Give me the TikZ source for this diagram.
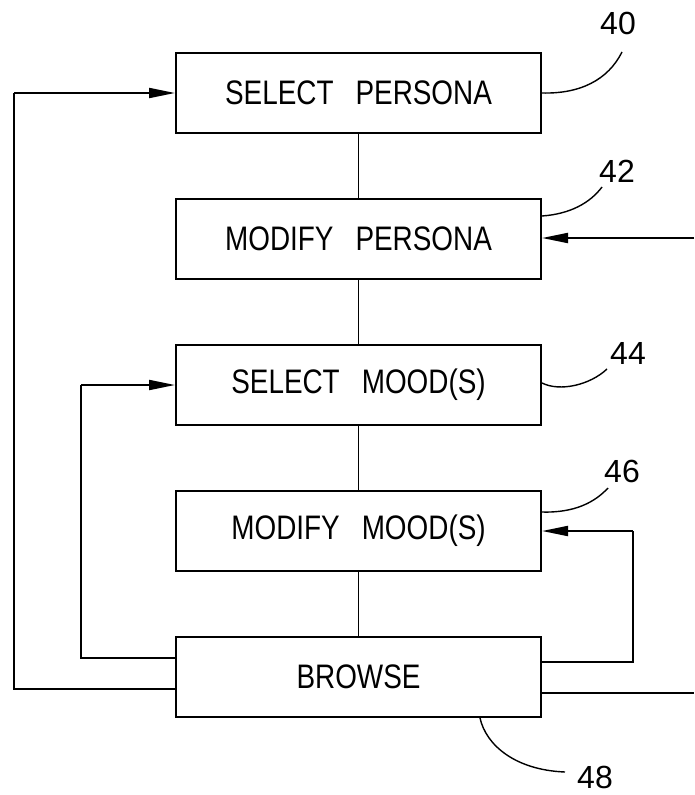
\documentclass[tikz,border=0pt]{standalone}
\usepackage{fontspec}
\setmainfont{Liberation Sans}
\newfontfamily\pfont[FakeStretch=0.82]{Liberation Sans}
\usetikzlibrary{arrows.meta}
\begin{document}
\begin{tikzpicture}[x=1pt,y=-1pt,
  stepbox/.style={draw,line width=2pt,minimum width=365pt,minimum height=80pt,inner sep=0pt,
    font=\pfont\fontsize{34}{34}\selectfont},
  link/.style={line width=1.4pt},
  loop/.style={line width=2pt},
  arr/.style={loop,-{Triangle[length=26pt,width=10pt]}},
  leader/.style={line width=1.4pt},
  num/.style={inner sep=0pt,font=\fontsize{32}{32}\selectfont}]
\useasboundingbox (0,0) rectangle (694,795);
\node[stepbox] (b40) at (358.5,93) {SELECT\hspace{22pt}PERSONA};
\node[stepbox] (b42) at (358.5,239) {MODIFY\hspace{22pt}PERSONA};
\node[stepbox] (b44) at (358.5,385) {SELECT\hspace{22pt}MOOD(S)};
\node[stepbox] (b46) at (358.5,531) {MODIFY\hspace{22pt}MOOD(S)};
\node[stepbox] (b48) at (358.5,677) {BROWSE};
\draw[link] (b40) -- (b42);
\draw[link] (b42) -- (b44);
\draw[link] (b44) -- (b46);
\draw[link] (b46) -- (b48);
% loops
\coordinate (lo) at (14,93);
\coordinate (li) at (81,385);
\coordinate (ri) at (633,531);
\coordinate (ro) at (694,693);
\coordinate (rin) at (694,238);
\draw[loop] ([yshift=-12pt]b48.west) -| (lo);
\draw[arr] (lo) -- (b40.west);
\draw[loop] ([yshift=19pt]b48.west) -| (li);
\draw[arr] (li) -- (b44.west);
\draw[loop] ([yshift=15pt]b48.east) -| (ri);
\draw[arr] (ri) -- (b46.east);
\draw[loop] ([yshift=-16pt]b48.east) -- (ro);
\draw[arr] (rin) -- ([yshift=1pt]b42.east);
% labels
\node[num] (n40) at (618,23) {40};
\node[num] (n42) at (617,171) {42};
\node[num] (n44) at (628,353) {44};
\node[num] (n46) at (622,471) {46};
\node[num] (n48) at (595,777) {48};
\coordinate (e40) at (622,52);
\coordinate (e42) at (602,187);
\coordinate (e44) at (607,369);
\coordinate (e46) at (608,488);
\coordinate (e48) at (565,772);
\draw[leader] (b40.east) .. controls (580,94) and (608,80) .. (e40);
\draw[leader] ([yshift=23pt]b42.east) .. controls (570,214) and (590,203) .. (e42);
\draw[leader] ([yshift=2pt]b44.east) .. controls (560,392) and (590,385) .. (e44);
\draw[leader] ([yshift=19pt]b46.east) .. controls (575,513) and (595,502) .. (e46);
\draw[leader] ([xshift=121.5pt]b48.south) .. controls (486,745) and (515,770) .. (e48);
\end{tikzpicture}
\end{document}
